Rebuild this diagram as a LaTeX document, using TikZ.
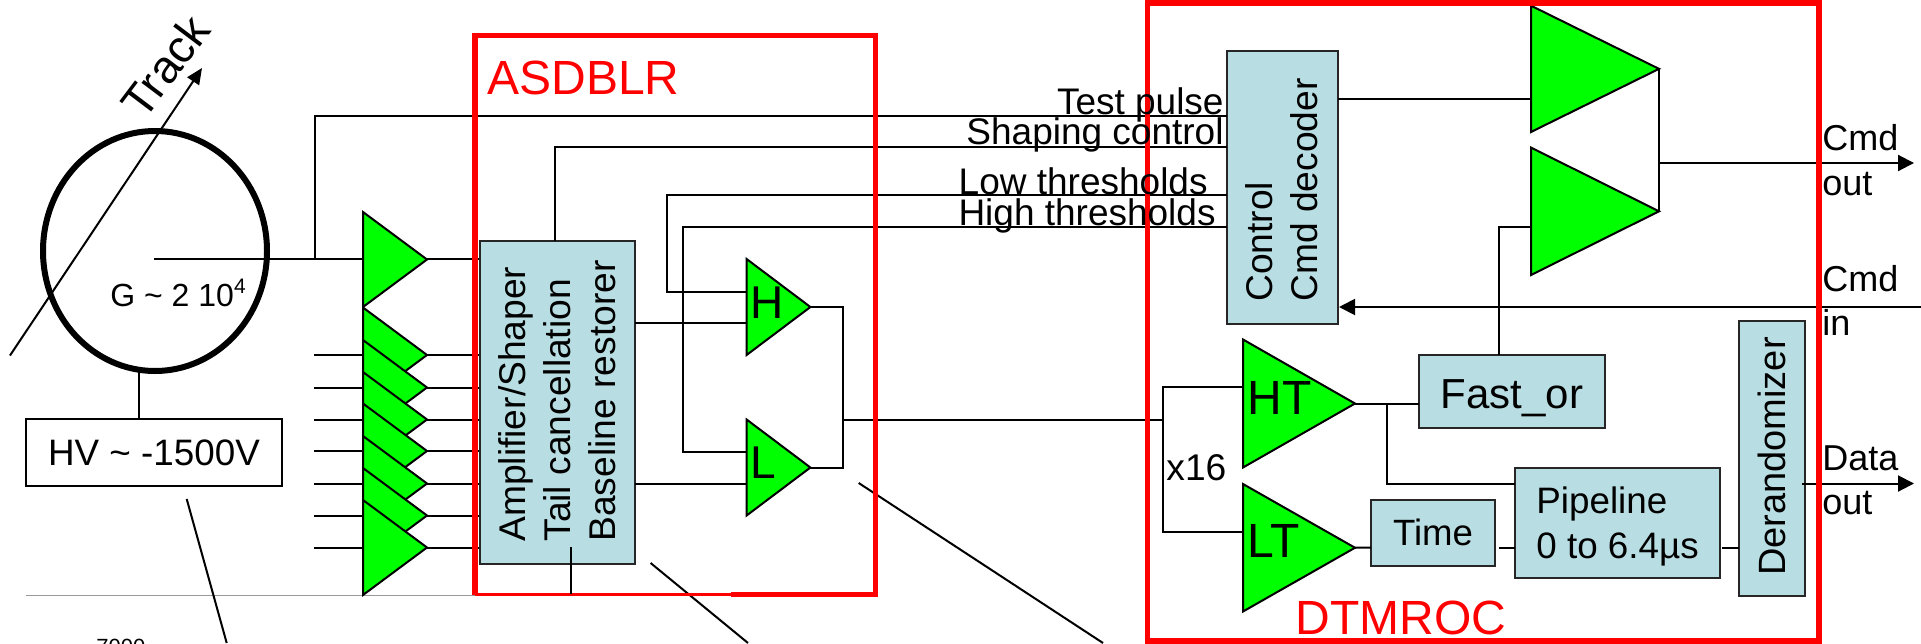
\documentclass[tikz,border=0pt]{standalone}
\usepackage{fontspec}
\setmainfont{Liberation Sans}
\usetikzlibrary{fit,arrows.meta,shapes.geometric}
\definecolor{ampgreen}{RGB}{0,255,0}
\definecolor{blockblue}{RGB}{184,222,227}
\tikzset{
  wire/.style={draw=black,line width=1pt},
  arrowwire/.style={wire,-{Triangle[length=8pt,width=8pt]}},
  frame/.style={draw=red,line width=2.6pt},
  blockbox/.style={draw=black!85,line width=1pt,fill=blockblue,inner sep=0pt},
  txt/.style={inner sep=0pt,text=black},
  redtxt/.style={inner sep=0pt,text=red,font=\fontsize{24}{24}\selectfont},
  sig/.style={txt,font=\fontsize{18.5}{18.5}\selectfont,anchor=base east},
  io/.style={txt,font=\fontsize{18}{18}\selectfont,anchor=base west},
  vert/.style={txt,rotate=90,align=left,font=\fontsize{18.6}{22.5}\selectfont},
  amptri/.style={draw=black,line width=1pt,fill=ampgreen,line join=miter},
  lett/.style={txt,font=\fontsize{24}{24}\selectfont},
}
% name, left x, top y, tip x, bottom y
\newcommand{\amptriangle}[5]{%
  \coordinate (#1-t) at (#2,#3);
  \coordinate (#1-b) at (#2,#5);
  \coordinate (#1-o) at (#4,{(#3+#5)/2});
  \draw[amptri] (#1-t) -- (#1-o) -- (#1-b) -- cycle;
}
% name, x1,y1,x2,y2
\newcommand{\blockrect}[5]{%
  \coordinate (#1-a) at (#2,#3);
  \coordinate (#1-c) at (#4,#5);
  \node[blockbox,fit=(#1-a)(#1-c)] (#1) {};
}
\begin{document}
\begin{tikzpicture}[x=0.5pt,y=-0.5pt]
\useasboundingbox (0,0) rectangle (1921,643);
% ---- coordinates for wires
\coordinate (anode) at (154,259);
\coordinate (tpb) at (315,259);
\coordinate (tpt) at (315,115.5);
\coordinate (tpe) at (1227,115.5);
\coordinate (trs) at (10,355.5);
\coordinate (tre) at (202,68);
\coordinate (hvt) at (139,371);
\coordinate (hvb) at (139,419);
% gray ground line and thin diagonals
\coordinate (gnda) at (26,595);
\coordinate (gndb) at (731,595);
\draw[black!40,line width=0.5pt] (gnda) -- (gndb);
\coordinate (da1) at (186.7,499); \coordinate (da2) at (226.7,643);
\coordinate (db1) at (650.6,563); \coordinate (db2) at (748,643);
\coordinate (dc1) at (858.7,483); \coordinate (dc2) at (1103,643);
\draw[wire] (da1) -- (da2);
\draw[wire] (db1) -- (db2);
\draw[wire] (dc1) -- (dc2);
% ---- wires behind the frames
\foreach \n/\y in {0/259}{
  \coordinate (o\n) at (427,\y); \coordinate (ob\n) at (480,\y);
  \draw[wire] (o\n) -- (ob\n);
}
\foreach \n/\y in {1/355,2/387.5,3/419.5,4/451,5/483.5,6/515.5,7/547.5}{
  \coordinate (i\n) at (314,\y); \coordinate (ie\n) at (363,\y);
  \coordinate (o\n) at (427,\y); \coordinate (ob\n) at (480,\y);
  \draw[wire] (i\n) -- (ie\n);
  \draw[wire] (o\n) -- (ob\n);
}
% ---- preamps
\amptriangle{pa0}{363}{212}{427}{307}
\foreach \n/\y in {1/355,2/387.5,3/419.5,4/451,5/483.5,6/515.5,7/547.5}{
  \pgfmathsetmacro{\ya}{\y-47.5}\pgfmathsetmacro{\yb}{\y+47.5}
  \amptriangle{pa\n}{363}{\ya}{427}{\yb}
}
% ---- blocks
\blockrect{ampblk}{480}{241}{635}{564}
\blockrect{ctrl}{1227}{51}{1338}{323.5}
\blockrect{fastor}{1419}{355}{1604.5}{428}
\blockrect{timeb}{1371}{499.5}{1495}{566}
\blockrect{pipe}{1515}{467.5}{1720}{578}
\blockrect{derand}{1739}{320.5}{1805}{595.5}
% ---- wires
\draw[wire] (anode) -- (pa0-t |- anode);
\draw[wire] (tpb) -- (tpt) -- (tpe);
\coordinate (scb) at (555,241); \coordinate (sct) at (555,147); \coordinate (sce) at (1227,147);
\draw[wire] (scb) -- (sct) -- (sce);
\coordinate (lta) at (746.6,291.5); \coordinate (ltb) at (666.7,291.5); \coordinate (ltc) at (666.7,195); \coordinate (ltd) at (1227,195);
\draw[wire] (lta) -- (ltb) -- (ltc) -- (ltd);
\coordinate (hta) at (746.6,451.5); \coordinate (htb) at (682.8,451.5); \coordinate (htc) at (682.8,226.8); \coordinate (htd) at (1227,226.8);
\draw[wire] (hta) -- (htb) -- (htc) -- (htd);
\coordinate (aH) at (635,323); \coordinate (aHe) at (746.6,323);
\coordinate (aL) at (635,483.5); \coordinate (aLe) at (746.6,483.5);
\draw[wire] (aH) -- (aHe);
\draw[wire] (aL) -- (aLe);
\amptriangle{discH}{746.6}{259}{810.4}{355}
\amptriangle{discL}{746.6}{419.5}{810.4}{515.5}
\coordinate (orH) at (843,307); \coordinate (orL) at (843,467.5); \coordinate (orM) at (843,419.5);
\coordinate (spl) at (1162.5,419.5); \coordinate (splt) at (1162.5,387); \coordinate (splb) at (1162.5,531.5);
\coordinate (htin) at (1243,387); \coordinate (ltin) at (1243,531.5);
\draw[wire] (discH-o) -- (orH) -- (orL) -- (discL-o);
\draw[wire] (orM) -- (spl);
\draw[wire] (htin) -- (splt) -- (splb) -- (ltin);
\amptriangle{ht}{1243}{339.5}{1355}{467.5}
\amptriangle{lt}{1243}{484}{1355}{611.5}
\amptriangle{drvA}{1531}{5.7}{1659}{132}
\amptriangle{drvB}{1531}{147.6}{1659}{275}
\coordinate (cA) at (1338,99); \coordinate (cAe) at (1531,99);
\draw[wire] (cA) -- (cAe);
\coordinate (cmdo) at (1659,163); \coordinate (cmdoe) at (1914,163);
\draw[wire] (drvA-o) -- (drvB-o);
\draw[arrowwire] (cmdo) -- (cmdoe);
\coordinate (cmdi) at (1921,307); \coordinate (cmdie) at (1339,307);
\draw[arrowwire] (cmdi) -- (cmdie);
\coordinate (foa) at (1499,355); \coordinate (fob) at (1499,226.8); \coordinate (foc) at (1531,226.8);
\draw[wire] (foa) -- (fob) -- (foc);
\coordinate (hto) at (1419,403.5); \coordinate (htj) at (1387,403.5); \coordinate (htk) at (1387,483.5); \coordinate (htl) at (1515,483.5);
\draw[wire] (ht-o) -- (hto);
\draw[wire] (htj) -- (htk) -- (htl);
\coordinate (ltt) at (1371,547.5);
\draw[wire] (lt-o) -- (ltt);
\coordinate (tpa) at (1499,547.5); \coordinate (tpbb) at (1515,547.5);
\draw[wire] (tpa) -- (tpbb);
\coordinate (pda) at (1722,547.5); \coordinate (pdb) at (1739,547.5);
\draw[wire] (pda) -- (pdb);
\coordinate (dao) at (1802,483.5); \coordinate (daoe) at (1914,483.5);
\draw[arrowwire] (dao) -- (daoe);
% ---- frames
\coordinate (fa1) at (475,594.6); \coordinate (fa2) at (475,35.7); \coordinate (fa3) at (875.6,35.7); \coordinate (fa4) at (875.6,594.6); \coordinate (fa5) at (731,594.6);
\draw[frame,line join=miter,line cap=square] (fa5) -- (fa4) -- (fa3) -- (fa2) -- (fa1);
\draw[draw=red,line width=1.3pt] (fa1) -- (fa5);
\coordinate (fd1) at (1147.5,3); \coordinate (fd2) at (1819,641);
\draw[frame] (fd1) rectangle (fd2);
\coordinate (blk1) at (570.7,547); \coordinate (blk2) at (570.7,594);
\draw[wire] (blk1) -- (blk2);
% ---- tube
\node[draw=black,line width=3pt,ellipse,minimum width=112pt,minimum height=120pt,inner sep=0pt] (tube) at (155,251) {};
\draw[wire] (anode) -- (tpb);
\draw[wire,-{Triangle[length=8pt,width=7pt]}] (trs) -- (tre);
\node[draw=black,line width=1pt,minimum width=128pt,minimum height=33.5pt,inner sep=0pt] (hv) at (154,452.5) {};
\draw[wire] (hvt) -- (hvb);
% ---- text
\node[txt,font=\fontsize{23}{23}\selectfont,rotate=53] (track) at (165,66) {Track};
\node[txt,font=\fontsize{16}{16}\selectfont,anchor=base west] (gain) at (110,306.5) {G \textasciitilde{} 2 10\raisebox{0.42em}{\fontsize{10.5}{10.5}\selectfont 4}};
\node[txt,font=\fontsize{18.4}{18.4}\selectfont] (hvlabel) at (154,452.5) {HV \textasciitilde{} -1500V};
\node[txt,font=\fontsize{11}{11}\selectfont,anchor=base west] (sev) at (96,654) {7000};
\node[redtxt,anchor=base west] (asd) at (487,94) {ASDBLR};
\node[redtxt,anchor=base west] (dtm) at (1295,634) {DTMROC};
\node[vert] (amptext) at (557,401) {Amplifier/Shaper\\Tail cancellation\\Baseline restorer};
\node[vert] (ctrltxt) at (1282,190) {Control\\Cmd decoder};
\node[vert,font=\fontsize{19}{22.5}\selectfont] (dertxt) at (1772,456.5) {Derandomizer};
\node[txt,font=\fontsize{21}{21}\selectfont,anchor=base] (fotxt) at (1512,408) {Fast\_or};
\node[txt,font=\fontsize{18.3}{18.3}\selectfont,anchor=base] (tmtxt) at (1433,545.5) {Time};
\node[txt,font=\fontsize{18.4}{22.75}\selectfont,align=left,anchor=base west] (pitxt) at (1536,558.5) {Pipeline\\0 to 6.4µs};
\node[sig] (s1) at (1224,114) {Test pulse};
\node[sig] (s2) at (1224,144) {Shaping control};
\node[sig] (s3) at (1208,194) {Low thresholds};
\node[sig] (s4) at (1216,225) {High thresholds};
\node[io] (c1) at (1822,150) {Cmd};
\node[io] (c2) at (1822,195) {out};
\node[io] (c3) at (1822,291) {Cmd};
\node[io] (c4) at (1822,335) {in};
\node[io] (c5) at (1822,470) {Data};
\node[io] (c6) at (1822,514) {out};
\node[txt,font=\fontsize{18.6}{18.6}\selectfont,anchor=base west] (x16) at (1166,480) {x16};
\node[lett,font=\fontsize{23}{23}\selectfont,anchor=base west] (lh) at (750,318) {H};
\node[lett,font=\fontsize{23}{23}\selectfont,anchor=base west] (ll) at (750,478) {L};
\node[lett,anchor=base west] (lht) at (1247,414) {HT};
\node[lett,anchor=base west] (llt) at (1247,557.5) {LT};
\end{tikzpicture}
\end{document}
